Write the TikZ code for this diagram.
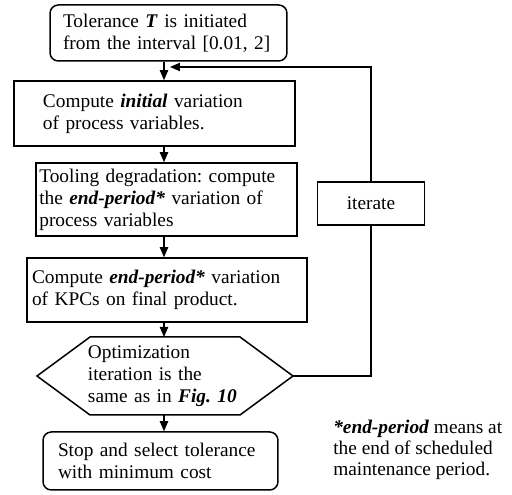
\documentclass[tikz,border=0pt]{standalone}
\usepackage{fontspec}
\setmainfont{Liberation Serif}
\usetikzlibrary{arrows.meta}

\begin{document}
\frenchspacing
\begin{tikzpicture}[x=0.6pt,y=-0.6pt,
  box/.style={draw, line width=0.9pt, align=left, inner xsep=2pt, inner ysep=0pt, font=\fontsize{11.6}{13.2}\selectfont},
  rbox/.style={box, rounded corners=5pt},
  lpad/.style={execute at begin node={\leftskip=#1}},
  arrow/.style={-{Triangle[length=6pt,width=5pt]}, line width=0.7pt}]
  \useasboundingbox (0,0) rectangle (512,495);
  % steps of the procedure
  \node[rbox, text width=138.2pt, lpad=5.8pt, minimum height=33.6pt] (tol) at (168.5,33)
    {Tolerance \textbf{\textit{T}} is initiated\\from the interval [0.01, 2]};
  \node[box, text width=164.6pt, lpad=15.4pt, minimum height=39pt] (init) at (154.5,113.5)
    {Compute \textbf{\textit{initial}} variation\\of process variables.};
  \node[box, text width=152.6pt, lpad=0pt, minimum height=43.8pt] (tool) at (166.5,199.5)
    {Tooling degradation: compute\\the \textbf{\textit{end-period*}} variation of\\process variables};
  \node[box, text width=164pt, lpad=1pt, minimum height=38.4pt] (kpc) at (167,290)
    {Compute \textbf{\textit{end-period*}} variation\\of KPCs on final product.};
  % decision
  \node[box, draw=none, outer sep=0pt, text width=149.6pt, lpad=28.6pt, minimum height=46.8pt] (opt) at (165,376)
    {Optimization\\iteration is the\\same as in \textbf{\textit{Fig. 10}}};
  \draw[line width=0.9pt] (opt.west) -- ([xshift=31.8pt]opt.north west) -- ([xshift=-31.8pt]opt.north east)
    -- (opt.east) -- ([xshift=-31.8pt]opt.south east) -- ([xshift=31.8pt]opt.south west) -- cycle;
  \node[rbox, text width=137pt, lpad=7pt, minimum height=34.8pt] (stop) at (160.5,461)
    {Stop and select tolerance\\with minimum cost};
  \node[box, align=center, minimum width=64.2pt, minimum height=25.8pt] (iter) at (371,203.5) {iterate};
  % footnote
  \node[anchor=west, align=left, inner sep=0pt, font=\fontsize{11.6}{12.4}\selectfont] (note) at (333,450)
    {\textbf{\textit{*end-period}} means at\\the end of scheduled\\maintenance period.};
  % connectors
  \coordinate (spine) at (164,0);
  \coordinate (joint) at (170,67);
  \draw[arrow] (tol.south -| spine) -- (init.north -| spine);
  \draw[arrow] (init.south -| spine) -- (tool.north -| spine);
  \draw[arrow] (tool.south -| spine) -- (kpc.north -| spine);
  \draw[arrow] (kpc.south -| spine) -- (opt.north -| spine);
  \draw[arrow] (opt.south -| spine) -- (stop.north -| spine);
  % feedback loop
  \draw[line width=0.7pt] (opt.east) -| (iter.south);
  \draw[arrow] (iter.north) |- (joint);
\end{tikzpicture}
\end{document}
